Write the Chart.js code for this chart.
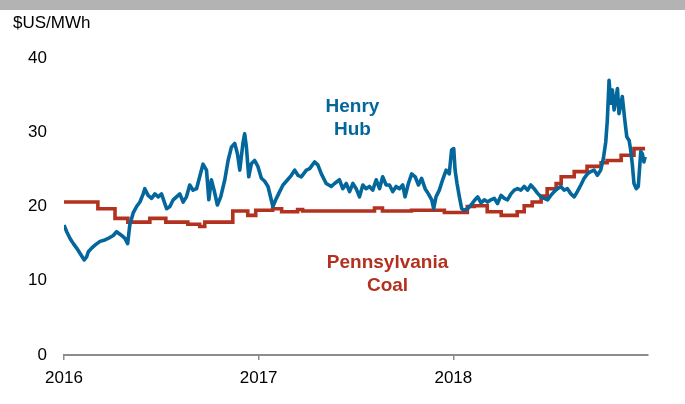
<!DOCTYPE html>
<html>
<head>
<meta charset="utf-8">
<script src="https://cdn.jsdelivr.net/npm/chart.js@4"></script>
<style>
  html, body { margin: 0; padding: 0; background: #fff; }
  #wrap { width: 685px; height: 404px; position: relative; }
</style>
</head>
<body>
<div id="wrap"><canvas id="myChart"></canvas></div>
<script>
/****data*****/
const unitLabel = '$US/MWh';
const yTicks = [0, 10, 20, 30, 40];
const xTickYears = [2016, 2017, 2018];

// Henry Hub, read roughly weekly off the picture (decimal years)
const hhYears = [
  2016.000, 2016.014, 2016.031, 2016.048, 2016.065, 2016.082, 2016.104, 2016.116, 2016.125, 2016.142,
  2016.159, 2016.185, 2016.210, 2016.227, 2016.253, 2016.270, 2016.296, 2016.313, 2016.327, 2016.338,
  2016.355, 2016.373, 2016.390, 2016.407, 2016.415, 2016.432, 2016.450, 2016.467, 2016.484, 2016.501,
  2016.527, 2016.544, 2016.561, 2016.578, 2016.595, 2016.612, 2016.629, 2016.646, 2016.663, 2016.681,
  2016.697, 2016.714, 2016.732, 2016.744, 2016.757, 2016.771, 2016.788, 2016.805, 2016.826, 2016.843,
  2016.860, 2016.877, 2016.891, 2016.903, 2016.919, 2016.928, 2016.937, 2016.949, 2016.963, 2016.979,
  2016.996, 2017.014, 2017.031, 2017.048, 2017.073, 2017.091, 2017.108, 2017.125, 2017.142, 2017.168,
  2017.185, 2017.202, 2017.219, 2017.245, 2017.262, 2017.287, 2017.304, 2017.322, 2017.347, 2017.373,
  2017.390, 2017.415, 2017.432, 2017.450, 2017.467, 2017.484, 2017.501, 2017.518, 2017.535, 2017.552,
  2017.569, 2017.586, 2017.604, 2017.621, 2017.637, 2017.655, 2017.672, 2017.689, 2017.706, 2017.723,
  2017.740, 2017.752, 2017.769, 2017.786, 2017.804, 2017.821, 2017.837, 2017.855, 2017.872, 2017.889,
  2017.899, 2017.911, 2017.928, 2017.945, 2017.963, 2017.979, 2017.991, 2018.002, 2018.009, 2018.019,
  2018.031, 2018.043, 2018.056, 2018.073, 2018.091, 2018.108, 2018.125, 2018.142, 2018.159, 2018.176,
  2018.193, 2018.210, 2018.227, 2018.245, 2018.262, 2018.278, 2018.296, 2018.313, 2018.330, 2018.347,
  2018.364, 2018.381, 2018.398, 2018.415, 2018.432, 2018.450, 2018.467, 2018.484, 2018.501, 2018.518,
  2018.535, 2018.552, 2018.569, 2018.586, 2018.604, 2018.621, 2018.637, 2018.655, 2018.672, 2018.689,
  2018.706, 2018.723, 2018.740, 2018.757, 2018.771, 2018.783, 2018.791, 2018.800, 2018.809, 2018.817,
  2018.826, 2018.834, 2018.843, 2018.851, 2018.868, 2018.881, 2018.891, 2018.903, 2018.911, 2018.919,
  2018.928, 2018.940, 2018.950, 2018.963, 2018.971, 2018.979, 2018.985
];
const hhValues = [
  17.5, 16.6, 15.7, 15.0, 14.4, 13.7, 12.8, 13.2, 13.9, 14.4,
  14.8, 15.3, 15.5, 15.7, 16.1, 16.6, 16.1, 15.7, 15.0, 17.5,
  19.1, 20.0, 20.6, 21.7, 22.4, 21.5, 21.1, 21.7, 21.3, 21.7,
  19.7, 20.0, 20.9, 21.3, 21.7, 20.6, 21.3, 22.9, 22.2, 22.4,
  24.0, 25.7, 24.9, 20.9, 23.6, 22.2, 20.2, 21.3, 23.6, 26.2,
  28.0, 28.5, 27.1, 24.9, 28.5, 29.8, 28.0, 24.0, 25.8, 26.2,
  25.4, 23.8, 23.4, 22.7, 20.0, 21.1, 22.0, 22.9, 23.4, 24.2,
  24.9, 24.2, 24.0, 24.9, 25.1, 26.0, 25.6, 24.4, 23.1, 22.7,
  23.1, 23.6, 22.4, 23.1, 22.0, 23.1, 22.4, 21.3, 22.9, 22.4,
  22.7, 22.2, 23.6, 22.4, 24.0, 22.9, 22.9, 22.0, 22.7, 22.4,
  22.9, 21.3, 23.1, 24.4, 24.0, 22.9, 23.8, 22.4, 21.7, 20.9,
  19.7, 21.3, 22.2, 23.6, 24.9, 24.4, 27.6, 27.8, 24.9, 23.1,
  21.3, 19.7, 19.5, 19.7, 20.2, 20.8, 21.3, 20.5, 20.9, 20.6,
  20.9, 21.1, 20.4, 21.5, 21.1, 20.9, 21.7, 22.2, 22.4, 22.2,
  22.7, 22.2, 22.9, 22.4, 21.8, 21.3, 21.1, 20.9, 21.5, 22.0,
  22.4, 22.7, 22.2, 22.4, 21.7, 21.3, 22.0, 22.9, 23.8, 24.4,
  24.7, 24.9, 24.2, 24.9, 26.5, 28.7, 31.6, 37.0, 33.9, 35.7,
  33.0, 34.3, 35.9, 32.5, 34.8, 31.6, 29.4, 28.9, 27.6, 25.8,
  23.1, 22.4, 22.7, 27.4, 27.1, 26.0, 26.7
];

// Pennsylvania coal, step changes (value holds from that date on)
const coalYears = [
  2016.000, 2016.174, 2016.262, 2016.328, 2016.441, 2016.523, 2016.636, 2016.697, 2016.723, 2016.867,
  2016.944, 2016.985, 2017.072, 2017.118, 2017.200, 2017.226, 2017.595, 2017.636, 2017.785, 2017.954,
  2018.072, 2018.108, 2018.174, 2018.246, 2018.328, 2018.364, 2018.405, 2018.451, 2018.482, 2018.528,
  2018.554, 2018.621, 2018.687, 2018.759, 2018.790, 2018.862, 2018.928, 2018.985
];
const coalValues = [
  20.6, 19.7, 18.4, 17.9, 18.4, 17.9, 17.6, 17.3, 17.9, 19.4,
  18.8, 19.5, 19.7, 19.3, 19.6, 19.4, 19.8, 19.4, 19.5, 19.2,
  20.0, 20.1, 19.3, 18.8, 19.3, 20.1, 20.6, 21.4, 22.4, 23.1,
  24.0, 24.7, 25.4, 25.9, 26.2, 26.9, 27.8, 27.8
];
/*****************/

const BLUE = '#03679c';
const RED = '#b2311f';
const FONT = '"Liberation Sans", Arial, sans-serif';

// series labels placed in data coordinates
const seriesNotes = [
  { lines: ['Henry', 'Hub'], x: 2017.482, y: [33.4, 30.3], color: BLUE },
  { lines: ['Pennsylvania', 'Coal'], x: 2017.662, y: [12.4, 9.3], color: RED }
];

const decorPlugin = {
  id: 'decor',
  beforeDraw(chart) {
    const ctx = chart.ctx;
    ctx.save();
    ctx.fillStyle = '#b3b3b3';
    ctx.fillRect(0, 0, chart.width, 10);
    ctx.fillStyle = '#000';
    ctx.font = '17px ' + FONT;
    ctx.textAlign = 'left';
    ctx.textBaseline = 'middle';
    ctx.fillText(unitLabel, 13, 23);
    ctx.restore();
  },
  afterDatasetsDraw(chart) {
    const ctx = chart.ctx;
    const xs = chart.scales.x, ys = chart.scales.y;
    ctx.save();
    ctx.font = 'bold 19px ' + FONT;
    ctx.textAlign = 'center';
    ctx.textBaseline = 'middle';
    seriesNotes.forEach(n => {
      ctx.fillStyle = n.color;
      n.lines.forEach((t, i) => {
        ctx.fillText(t, xs.getPixelForValue(n.x), ys.getPixelForValue(n.y[i]));
      });
    });
    ctx.restore();
  }
};

const lineData = {
  datasets: [{
    label: 'Henry Hub',
    data: hhYears.map((x, i) => ({ x: x, y: hhValues[i] })),
    borderColor: BLUE,
    borderWidth: 3.6,
    pointRadius: 0,
    tension: 0,
    borderJoinStyle: 'round'
  },
  {
    label: 'Pennsylvania Coal',
    data: coalYears.map((x, i) => ({ x: x, y: coalValues[i] })),
    borderColor: RED,
    borderWidth: 3.6,
    pointRadius: 0,
    stepped: true
  }]
};

const config = {
  type: 'line',
  data: lineData,
  plugins: [decorPlugin],
  options: {
    responsive: true,
    maintainAspectRatio: false,
    animation: false,
    layout: { padding: { top: 58, right: 37, left: 0, bottom: 0 } },
    plugins: {
      legend: { display: false },
      tooltip: { enabled: false }
    },
    scales: {
      x: {
        type: 'linear',
        min: 2016,
        max: 2019,
        afterBuildTicks: s => { s.ticks = xTickYears.map(v => ({ value: v })); },
        afterFit: s => { s.height = 49; },
        grid: { display: true, drawOnChartArea: false, tickLength: 5, color: '#8c8c8c', lineWidth: 1.5 },
        border: { display: true, color: '#8c8c8c', width: 2 },
        ticks: {
          padding: 8,
          color: '#000',
          font: { family: FONT, size: 17 },
          maxRotation: 0,
          callback: v => String(v)
        }
      },
      y: {
        min: 0,
        max: 40,
        afterBuildTicks: s => { s.ticks = yTicks.map(v => ({ value: v })); },
        afterFit: s => { s.width = 64; },
        grid: { display: false },
        border: { display: false },
        ticks: {
          padding: 9,
          color: '#000',
          font: { family: FONT, size: 17 }
        }
      }
    }
  }
};

var myChart = new Chart(
  document.getElementById('myChart'),
  config
);
</script>
</body>
</html>
